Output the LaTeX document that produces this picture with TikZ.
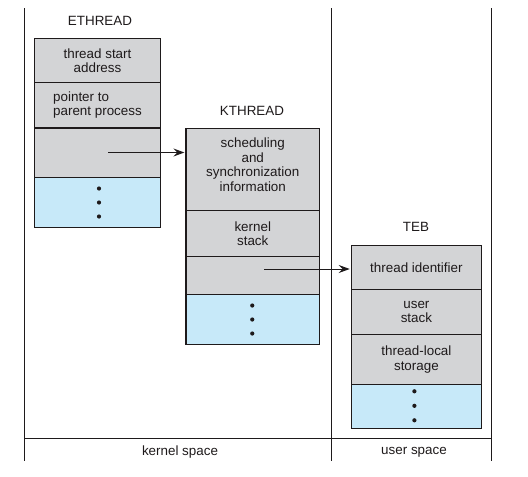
\documentclass[tikz,border=0pt]{standalone}
\usepackage{fontspec}
\setmainfont{Liberation Sans}
\usetikzlibrary{arrows.meta,calc}
\definecolor{cellgray}{RGB}{211,212,214}
\definecolor{cellblue}{RGB}{199,233,249}
\definecolor{ink}{RGB}{30,26,27}
\tikzset{
  txt/.style={font=\fontsize{13.4}{14.4}\selectfont, text=ink, inner sep=0pt},
  cell/.style={txt, draw=ink, line width=1.2pt, fill=cellgray, align=center, minimum width=#1},
  blue/.style={fill=cellblue},
  conn/.style={draw=ink, line width=1pt, -{Stealth[length=11pt,width=8pt,inset=4pt]}, shorten >=1pt},
  sep/.style={draw=ink, line width=1.1pt}
}
\begin{document}
\begin{tikzpicture}[x=1pt,y=-1pt]
\useasboundingbox (0,0) rectangle (528,477);
% frame
\coordinate (tl) at (24.3,8);
\coordinate (bl) at (24.3,461);
\coordinate (tm) at (331.3,8);
\coordinate (bm) at (331.3,461);
\coordinate (tr) at (491.3,8);
\coordinate (br) at (491.3,461);
\coordinate (hl) at (24.3,438.3);
\coordinate (hr) at (491.3,438.3);
\draw[sep] (tl) -- (bl);
\draw[sep] (tm) -- (bm);
\draw[sep] (tr) -- (br);
\draw[sep] (hl) -- (hr);
\node[txt] (ks) at (180,452.5) {kernel space};
\node[txt] (us) at (414,452.5) {user space};
% ETHREAD
\node[txt] (elab) at (100,20.5) {ETHREAD};
\node[cell=126pt, minimum height=44pt] (e1) at (97.5,60.5) {thread start\\address};
\node[cell=126pt, minimum height=45pt, align=left] (e2) at (97.5,105) {pointer to\\parent process};
\node[cell=126pt, minimum height=50pt] (e3) at (97.5,152.5) {};
\node[cell=126pt, minimum height=50pt, blue] (e4) at (97.5,202.5) {};
\draw[ink, line width=2.2pt] (e2.south west) -- (e2.south east);
\foreach \d in {-14,0,14} \fill[ink] ($(e4.center)+(1.5,\d)$) circle (2.1pt);
% KTHREAD
\node[txt] (klab) at (252,110.5) {KTHREAD};
\node[cell=133.5pt, minimum height=82pt] (k1) at (252.75,169.5) {scheduling\\and\\synchronization\\information\\[-9pt]\strut};
\node[cell=133.5pt, minimum height=46pt] (k2) at (252.75,233.5) {kernel\\stack};
\node[cell=133.5pt, minimum height=38pt] (k3) at (252.75,275.5) {};
\node[cell=133.5pt, minimum height=50pt, blue] (k4) at (252.75,319.5) {};
\foreach \d in {-14,0,14} \fill[ink] ($(k4.center)+(-0.5,\d)$) circle (2.1pt);
% TEB
\node[txt] (tlab) at (416,227) {TEB};
\node[cell=130.2pt, minimum height=43.6pt] (t1) at (416.4,267.5) {thread identifier};
\node[cell=130.2pt, minimum height=45.4pt] (t2) at (416.4,312) {user\\stack};
\node[cell=130.2pt, minimum height=49.6pt] (t3) at (416.4,359.5) {thread-local\\storage};
\node[cell=130.2pt, minimum height=44pt, blue] (t4) at (416.4,406.3) {};
\foreach \d in {-15,-0.5,14} \fill[ink] ($(t4.center)+(-2,\d)$) circle (2.1pt);
% connectors
\coordinate (a1) at ($(e3.center)+(10.5,0)$);
\coordinate (a2) at ($(k3.center)+(11.5,-6.5)$);
\draw[conn] (a1) -- (a1 -| k1.west);
\draw[conn] (a2) -- (a2 -| t1.west);
\end{tikzpicture}
\end{document}
